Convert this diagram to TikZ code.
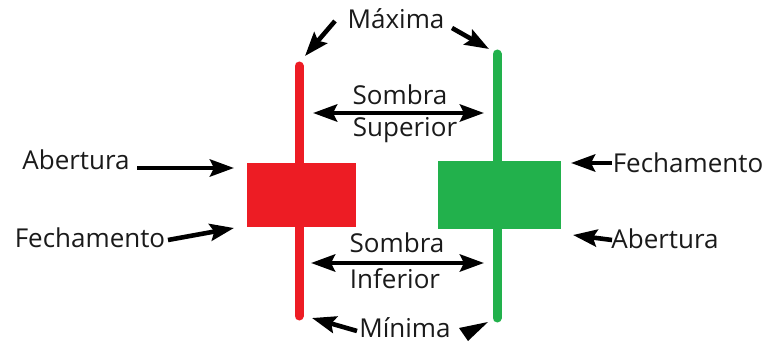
\documentclass[tikz,border=0pt]{standalone}
\usepackage{fontspec}
\setmainfont{Open Sans}
\usetikzlibrary{arrows.meta}
\definecolor{cred}{HTML}{ED1C24}
\definecolor{cgreen}{HTML}{22B14C}
\definecolor{ink}{HTML}{1A1A1A}
\begin{document}
\begin{tikzpicture}[x=1pt,y=-1pt,
  lbl/.style={anchor=base,inner sep=0pt,text=ink,font=\fontsize{26}{30}\selectfont},
  arr/.style={draw=black,line width=4.6pt,-{Stealth[length=24pt,width=17pt,inset=4pt]}},
  darr/.style={draw=black,line width=4.6pt,{Stealth[length=24pt,width=17pt,inset=4pt]}-{Stealth[length=24pt,width=17pt,inset=4pt]}},
  wick/.style={line width=9pt,line cap=round}]
\useasboundingbox (0,0) rectangle (771,342);
% red candle
\draw[wick,cred] (299,66) -- (299,316);
\fill[cred] (247,163) rectangle (356,227);
% green candle
\draw[wick,cgreen] (497,54) -- (497,318);
\fill[cgreen] (438,161) rectangle (561,229);
% labels
\node[lbl] (max) at (396,29) {Máxima};
\node[lbl] (ss) at (400,105) {Sombra};
\node[lbl] (sup) at (405,137) {Superior};
\node[lbl] (si) at (397,252) {Sombra};
\node[lbl] (inf) at (395,288) {Inferior};
\node[lbl] (min) at (405,337) {Mínima};
\node[lbl] (abl) at (76,169) {Abertura};
\node[lbl] (fel) at (90,247) {Fechamento};
\node[lbl] (fer) at (688,172) {Fechamento};
\node[lbl] (abr) at (665,248) {Abertura};
% arrow end points
\coordinate (a1) at (335,21);  \coordinate (a1t) at (305,56);
\coordinate (a2) at (452,28);  \coordinate (a2t) at (489,49);
\coordinate (s1) at (313,113); \coordinate (s2) at (484,113);
\coordinate (i1) at (311,263); \coordinate (i2) at (484,263);
\coordinate (m1) at (357,331); \coordinate (m1t) at (312,318);
\coordinate (l1) at (137,168); \coordinate (l1t) at (234,168);
\coordinate (l2) at (168,240); \coordinate (l2t) at (234,228);
\coordinate (r1) at (612,163); \coordinate (r1t) at (571,163);
\coordinate (r2) at (612,240); \coordinate (r2t) at (573,235);
% arrows
\draw[arr] (a1) -- (a1t);
\draw[arr] (a2) -- (a2t);
\draw[darr] (s1) -- (s2);
\draw[darr] (i1) -- (i2);
\draw[arr] (m1) -- (m1t);
\fill[black] (459,328) -- (488,322) -- (468,341) -- cycle;
\draw[arr] (l1) -- (l1t);
\draw[arr] (l2) -- (l2t);
\draw[arr] (r1) -- (r1t);
\draw[arr] (r2) -- (r2t);
\end{tikzpicture}
\end{document}
